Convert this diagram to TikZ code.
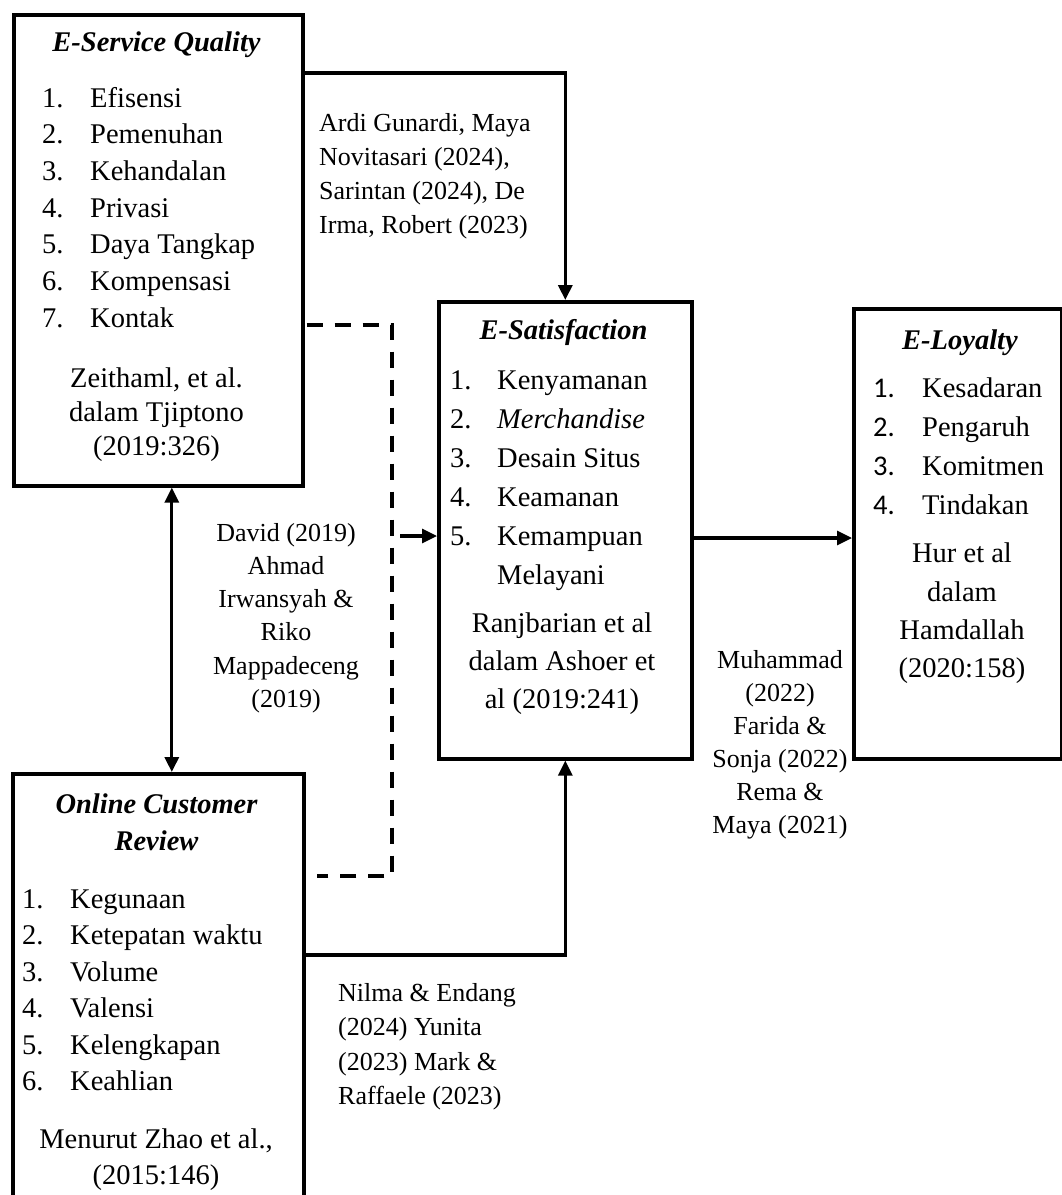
\documentclass[tikz,border=0pt]{standalone}
\usepackage{fontspec}
\setmainfont{Liberation Serif}
\newfontfamily\numfont{Carlito}
\usetikzlibrary{arrows.meta}
\newcommand\mfs{\fontsize{28.5}{34}\selectfont}
\newcommand\lfs{\fontsize{26}{32}\selectfont}
\begin{document}
\begin{tikzpicture}[x=1pt,y=-1pt,
  box/.style={draw, line width=3.6pt, rectangle, inner sep=0pt, anchor=north west},
  tip/.style={-{Triangle[length=15pt,width=14pt]}},
  conn/.style={line width=3.2pt, tip},
  dconn/.style={line width=3.6pt, dash pattern=on 16pt off 12pt},
  mt/.style={font=\mfs, inner sep=0pt, anchor=base west},
  nt/.style={font=\mfs\numfont, inner sep=0pt, anchor=base west},
  mc/.style={font=\mfs, inner sep=0pt, anchor=base},
  ttl/.style={font=\mfs\bfseries\itshape, inner sep=0pt, anchor=base},
  lbl/.style={font=\lfs, inner sep=0pt, anchor=base west},
  lblc/.style={font=\lfs, inner sep=0pt, anchor=base},
]
\useasboundingbox (0,0) rectangle (1062,1195);
\clip (0,0) rectangle (1062,1195);

% boxes
\node[box, minimum width=289pt, minimum height=471pt] (esq) at (12,13) {};
\node[box, minimum width=253pt, minimum height=457pt] (esat) at (437,300) {};
\node[box, minimum width=208pt, minimum height=450pt] (eloy) at (852,307) {};
\node[box, minimum width=291pt, minimum height=460pt] (orc) at (11,772) {};

% E-Service Quality
\node[ttl] (esq-title) at (156.5,51) {E-Service Quality};
\foreach \t [count=\n] in {Efisensi, Pemenuhan, Kehandalan, Privasi, Daya Tangkap, Kompensasi, Kontak} {
  \pgfmathsetmacro\yy{107+36.7*(\n-1)}
  \node[mt] (esq-n\n) at (42,\yy) {\n.};
  \node[mt] (esq-t\n) at (90,\yy) {\t};
}
\node[mc] (esq-c1) at (156.5,387) {Zeithaml, et al.};
\node[mc] (esq-c2) at (156.5,421) {dalam Tjiptono};
\node[mc] (esq-c3) at (156.5,455) {(2019:326)};

% E-Satisfaction
\node[ttl] (esat-title) at (563.5,339) {E-Satisfaction};
\foreach \t [count=\n] in {Kenyamanan, \textit{Merchandise}, Desain Situs, Keamanan, Kemampuan} {
  \pgfmathsetmacro\yy{389+39*(\n-1)}
  \node[mt] (esat-n\n) at (450,\yy) {\n.};
  \node[mt] (esat-t\n) at (497,\yy) {\t};
}
\node[mt] (esat-t6) at (497,584) {Melayani};
\node[mc] (esat-c1) at (562,632) {Ranjbarian et al};
\node[mc] (esat-c2) at (562,670) {dalam Ashoer et};
\node[mc] (esat-c3) at (562,708) {al (2019:241)};

% E-Loyalty
\node[ttl] (eloy-title) at (960,349) {E-Loyalty};
\foreach \t [count=\n] in {Kesadaran, Pengaruh, Komitmen, Tindakan} {
  \pgfmathsetmacro\yy{397+39*(\n-1)}
  \node[nt] (eloy-n\n) at (873,\yy) {\n.};
  \node[mt] (eloy-t\n) at (922,\yy) {\t};
}
\node[mc] (eloy-c1) at (962,562) {Hur et al};
\node[mc] (eloy-c2) at (962,601) {dalam};
\node[mc] (eloy-c3) at (962,639) {Hamdallah};
\node[mc] (eloy-c4) at (962,677) {(2020:158)};

% Online Customer Review
\node[ttl] (orc-title1) at (156.5,813) {Online Customer};
\node[ttl] (orc-title2) at (156.5,850) {Review};
\foreach \t [count=\n] in {Kegunaan, Ketepatan waktu, Volume, Valensi, Kelengkapan, Keahlian} {
  \pgfmathsetmacro\yy{908+36.5*(\n-1)}
  \node[mt] (orc-n\n) at (22,\yy) {\n.};
  \node[mt] (orc-t\n) at (70,\yy) {\t};
}
\node[mc] (orc-c1) at (156,1148) {Menurut Zhao et al.,};
\node[mc] (orc-c2) at (156,1184) {(2015:146)};

% connectors
\draw[conn] ([yshift=-60pt]esq.north east) -| (esat.north);
\coordinate (d1) at (392,325);
\coordinate (d2) at (392,876);
\coordinate (d3) at (317,876);
\draw[dconn] ([xshift=2pt]esq.east |- d1) -- (d1) -- (d2) -- (d3);
\coordinate (a0) at (400,536);
\draw[conn] (a0) -- (esat.west |- a0);
\draw[line width=3.2pt, {Triangle[length=15pt,width=14pt]}-{Triangle[length=15pt,width=14pt]}]
  ([xshift=13.5pt]esq.south) -- ([xshift=13.5pt]orc.north);
\coordinate (b0) at (0,955);
\draw[conn] (orc.east |- b0) -| (esat.south);
\coordinate (c0) at (0,538);
\draw[conn] (esat.east |- c0) -- (eloy.west |- c0);

% edge labels
\foreach \t [count=\n] in {{Ardi Gunardi, Maya},{Novitasari (2024),},{Sarintan (2024), De},{Irma, Robert (2023)}} {
  \pgfmathsetmacro\yy{131+34*(\n-1)}
  \node[lbl] (lab1-\n) at (319,\yy) {\t};
}
\foreach \t [count=\n] in {David (2019),Ahmad,Irwansyah \&,Riko,Mappadeceng,(2019)} {
  \pgfmathsetmacro\yy{541+33.3*(\n-1)}
  \node[lblc] (lab2-\n) at (286,\yy) {\t};
}
\foreach \t [count=\n] in {Nilma \& Endang,(2024) Yunita,(2023) Mark \&,Raffaele (2023)} {
  \pgfmathsetmacro\yy{1001+34.5*(\n-1)}
  \node[lbl] (lab3-\n) at (338,\yy) {\t};
}
\foreach \t [count=\n] in {Muhammad,(2022),Farida \&,Sonja (2022),Rema \&,Maya (2021)} {
  \pgfmathsetmacro\yy{668+33*(\n-1)}
  \node[lblc] (lab4-\n) at (780,\yy) {\t};
}
\end{tikzpicture}
\end{document}
